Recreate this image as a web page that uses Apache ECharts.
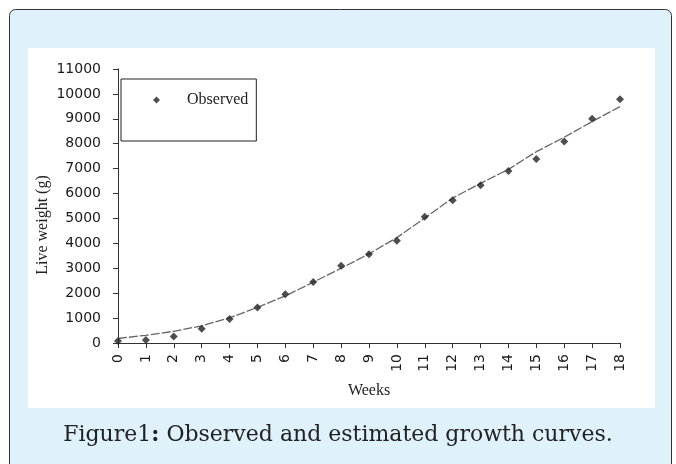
<!DOCTYPE html>
<html><head><meta charset="utf-8">
<script src="https://cdn.jsdelivr.net/npm/echarts@6/dist/echarts.min.js"></script>
<style>html,body{margin:0;padding:0;background:#fff}#c{width:676px;height:464px}</style>
</head><body><div id="c"></div>
<script>
const weeks = [0,1,2,3,4,5,6,7,8,9,10,11,12,13,14,15,16,17,18];
const observed = [80,120,260,570,960,1430,1960,2450,3100,3560,4100,5070,5730,6330,6910,7390,8090,9000,9790];
const estimated = [180,310,470,690,1010,1430,1890,2440,3000,3580,4230,5020,5820,6410,6970,7680,8260,8890,9490];
const yTicks = [0,1000,2000,3000,4000,5000,6000,7000,8000,9000,10000,11000];
const captionHead = 'Figure1';
const captionTail = ' Observed and estimated growth curves.';

const chart = echarts.init(document.getElementById('c'), null, {renderer:'canvas'});
const serif = '"Liberation Serif", "DejaVu Serif", serif';
const dserif = '"DejaVu Serif", serif';
const sans = '"DejaVu Sans", Verdana, sans-serif';
chart.setOption({
  animation:false,
  graphic:[
    {type:'rect', z:-10, shape:{x:9.5,y:9.5,width:662,height:480,r:6}, style:{fill:'#DFF1FB',stroke:'#333',lineWidth:1}},
    {type:'rect', z:-9, shape:{x:28,y:48,width:627,height:360}, style:{fill:'#ffffff'}},
    {type:'text', z:5, left:'center', top:424, style:{
      text:'{a|'+captionHead+'}{b|:}{a|'+captionTail+'}',
      rich:{a:{font:'22px '+dserif, fill:'#222'}, b:{font:'bold 22px '+dserif, fill:'#222'}}
    }},
    {type:'text', z:5, x:43, y:225, rotation:Math.PI/2, style:{text:'Live weight (g)', font:'16px '+serif, fill:'#222', align:'center', verticalAlign:'middle'}}
  ],
  grid:{left:118,right:56,top:69,bottom:121,containLabel:false},
  legend:{
    left:121, top:79, orient:'vertical',
    borderColor:'#222', borderWidth:1, borderRadius:0,
    padding:[13,8,33,32],
    itemWidth:7, itemHeight:7,
    data:[{name:'Observed', icon:'diamond'}],
    textStyle:{fontFamily:serif, fontSize:16, color:'#222', padding:[0,0,0,22]}
  },
  xAxis:{
    type:'value', min:0, max:18, interval:1,
    name:'Weeks', nameLocation:'middle', nameGap:40,
    nameTextStyle:{fontFamily:serif, fontSize:16, color:'#222'},
    axisLine:{lineStyle:{color:'#333'}},
    axisTick:{show:true, length:5, lineStyle:{color:'#333'}},
    axisLabel:{rotate:90, fontFamily:sans, fontSize:14, color:'#1a1a1a', margin:11},
    splitLine:{show:false}
  },
  yAxis:{
    type:'value', min:0, max:11000, interval:1000,
    axisLine:{show:true, lineStyle:{color:'#333'}},
    axisTick:{show:true, length:5, lineStyle:{color:'#333'}},
    axisLabel:{fontFamily:sans, fontSize:14, color:'#1a1a1a', margin:17, formatter:v=>String(v)},
    splitLine:{show:false}
  },
  series:[
    {name:'Estimated', type:'line', data:weeks.map((w,i)=>[w,estimated[i]]), showSymbol:false,
     lineStyle:{color:'#666', width:1.3, type:[9,2]}, z:2},
    {name:'Observed', type:'scatter', data:weeks.map((w,i)=>[w,observed[i]]), symbol:'diamond', symbolSize:8,
     itemStyle:{color:'#222'}, z:3}
  ]
});
</script></body></html>
